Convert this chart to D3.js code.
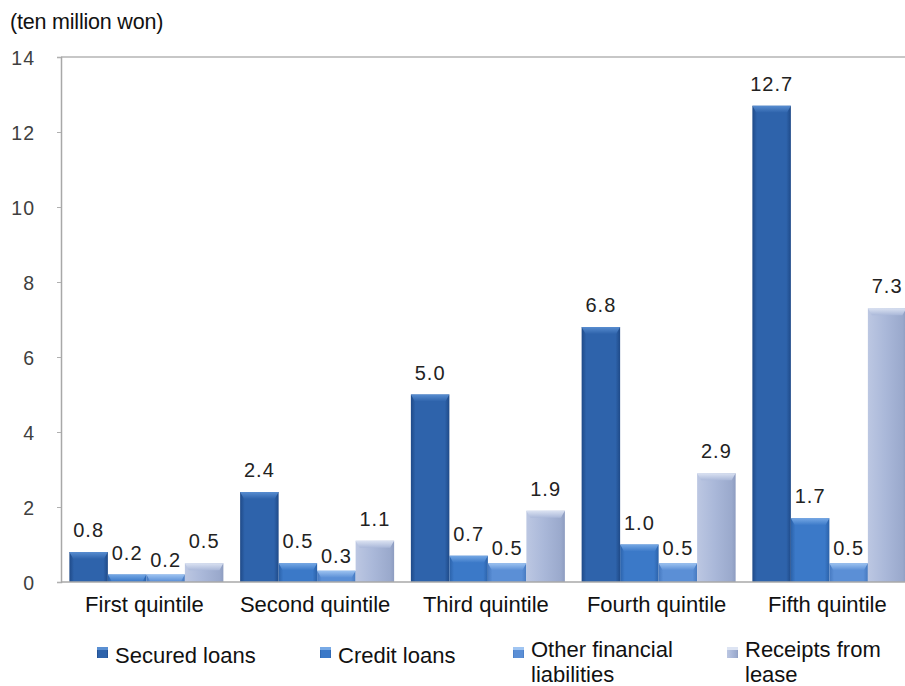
<!DOCTYPE html>
<html>
<head>
<meta charset="utf-8">
<script src="https://cdn.jsdelivr.net/npm/d3@7/dist/d3.min.js"></script>
<style>
  html, body { margin: 0; padding: 0; background: #fff; }
  svg { display: block; font-family: "Liberation Sans", Arial, sans-serif; }
</style>
</head>
<body>
<svg id="chart" width="905" height="686"></svg>
<script>
// Household debt by income quintile (ten million won)
const categories = ["First quintile", "Second quintile", "Third quintile", "Fourth quintile", "Fifth quintile"];
const seriesNames = ["Secured loans", "Credit loans", "Other financial liabilities", "Receipts from lease"];
const securedLoans = [0.8, 2.4, 5.0, 6.8, 12.7];
const creditLoans = [0.2, 0.5, 0.7, 1.0, 1.7];
const otherLiabilities = [0.2, 0.3, 0.5, 0.5, 0.5];
const leaseReceipts = [0.5, 1.1, 1.9, 2.9, 7.3];
const yTicks = [0, 2, 4, 6, 8, 10, 12, 14];
const unitLabel = "(ten million won)";

const seriesValues = [securedLoans, creditLoans, otherLiabilities, leaseReceipts];

// Fill styles per series: edge shade, body, top bevel
const palette = [
  { edge: "#1f4a88", body: "#2e63ab", top: "#5a8fd2" },
  { edge: "#2b62aa", body: "#3b79c8", top: "#78aae6" },
  { edge: "#4679c0", body: "#5b8fd6", top: "#a0c5f2" },
  { edge: "#8d9cc0", body: "#aab8d9", top: "#dde4f3" }
];
const labelGap = [15, 15, 8, 15];

const svg = d3.select("#chart");
const margin = { left: 61, top: 57, bottom: 582 };
const groupStep = 170.75;
const plotRight = margin.left + groupStep * categories.length;

const x0 = d3.scaleBand().domain(categories).range([margin.left, plotRight]).paddingInner(0).paddingOuter(0);
const x1 = d3.scaleBand().domain(d3.range(seriesNames.length)).range([0, x0.bandwidth()]).paddingInner(0).paddingOuter(0.2175);
const y = d3.scaleLinear().domain([0, 14]).range([margin.bottom, margin.top]);

// Gradients
const defs = svg.append("defs");
palette.forEach((p, i) => {
  const g = defs.append("linearGradient").attr("id", "grad" + i).attr("x1", "0").attr("x2", "1").attr("y1", "0").attr("y2", "0");
  if (i === 3) {
    g.append("stop").attr("offset", "0%").attr("stop-color", "#bcc7e2");
    g.append("stop").attr("offset", "45%").attr("stop-color", p.body);
    g.append("stop").attr("offset", "90%").attr("stop-color", "#9aa9cc");
    g.append("stop").attr("offset", "100%").attr("stop-color", p.edge);
  } else {
    g.append("stop").attr("offset", "0%").attr("stop-color", p.edge);
    g.append("stop").attr("offset", "12%").attr("stop-color", p.body);
    g.append("stop").attr("offset", "88%").attr("stop-color", p.body);
    g.append("stop").attr("offset", "100%").attr("stop-color", p.edge);
  }
  const t = defs.append("linearGradient").attr("id", "top" + i).attr("x1", "0").attr("x2", "0").attr("y1", "0").attr("y2", "1");
  t.append("stop").attr("offset", "0%").attr("stop-color", p.top);
  t.append("stop").attr("offset", "100%").attr("stop-color", p.body);
});

// Plot frame (top and left) and baseline
svg.append("line").attr("x1", margin.left).attr("x2", plotRight).attr("y1", margin.top).attr("y2", margin.top)
  .attr("stroke", "#b4b4b4").attr("stroke-width", 1.5);

const yAxis = d3.axisLeft(y).tickValues(yTicks).tickSize(4).tickPadding(22).tickFormat(d3.format("d"));
const yAxisG = svg.append("g").attr("transform", `translate(${margin.left},0)`).call(yAxis);
yAxisG.select(".domain").attr("stroke", "#a8a8a8").attr("stroke-width", 1.5);
yAxisG.selectAll(".tick line").attr("stroke", "#b0b0b0");
yAxisG.selectAll(".tick text")
  .attr("font-size", 19.5).attr("fill", "#404040").attr("letter-spacing", 1)
  .attr("font-family", "'Liberation Sans', Arial, sans-serif").attr("dy", "0.36em");

// Bars
const groups = svg.append("g").selectAll("g").data(categories).join("g")
  .attr("transform", d => `translate(${x0(d)},0)`);

groups.each(function(cat, ci) {
  const g = d3.select(this);
  seriesValues.forEach((vals, si) => {
    const v = vals[ci];
    const bx = x1(si), bw = x1.bandwidth();
    const top = y(v), h = y(0) - y(v);
    g.append("rect").attr("x", bx).attr("y", top).attr("width", bw).attr("height", h)
      .attr("fill", `url(#grad${si})`);
    const cap = Math.min(7, h);
    const inset = Math.min(4, cap * 0.7);
    g.append("path")
      .attr("d", `M${bx},${top}L${bx + bw},${top}L${bx + bw - inset},${top + cap}L${bx + inset},${top + cap}Z`)
      .attr("fill", `url(#top${si})`).attr("opacity", 0.95);
    g.append("text").attr("x", bx + bw / 2).attr("y", top - labelGap[si])
      .attr("text-anchor", "middle").attr("font-size", 20).attr("letter-spacing", 1)
      .attr("fill", "#222").text(d3.format(".1f")(v));
  });
});

// Baseline
svg.append("line").attr("x1", margin.left).attr("x2", plotRight).attr("y1", y(0)).attr("y2", y(0))
  .attr("stroke", "#a8a8a8").attr("stroke-width", 1.5);

// Category labels
svg.append("g").selectAll("text").data(categories).join("text")
  .attr("x", d => x0(d) + x0.bandwidth() / 2 - 2).attr("y", 612)
  .attr("text-anchor", "middle").attr("font-size", 22).attr("fill", "#111").text(d => d);

// Unit label
svg.append("text").attr("x", 10).attr("y", 29).attr("font-size", 21.5).attr("letter-spacing", -0.2)
  .attr("fill", "#111").text(unitLabel);

// Legend
const legendItems = [
  { x: 97, lines: ["Secured loans"] },
  { x: 320, lines: ["Credit loans"] },
  { x: 513, lines: ["Other financial", "liabilities"] },
  { x: 727, lines: ["Receipts from", "lease"] }
];
const legend = svg.append("g");
legendItems.forEach((item, i) => {
  const baseY = item.lines.length > 1 ? 657 : 663;
  legend.append("rect").attr("x", item.x).attr("y", 647).attr("width", 11).attr("height", 11)
    .attr("fill", `url(#grad${i})`);
  legend.append("rect").attr("x", item.x).attr("y", 647).attr("width", 11).attr("height", 3)
    .attr("fill", palette[i].top);
  item.lines.forEach((ln, li) => {
    legend.append("text").attr("x", item.x + 18).attr("y", baseY + li * 25)
      .attr("font-size", 22).attr("fill", "#111").text(ln);
  });
  legend.append("title").text(seriesNames[i]);
});
</script>
</body>
</html>
